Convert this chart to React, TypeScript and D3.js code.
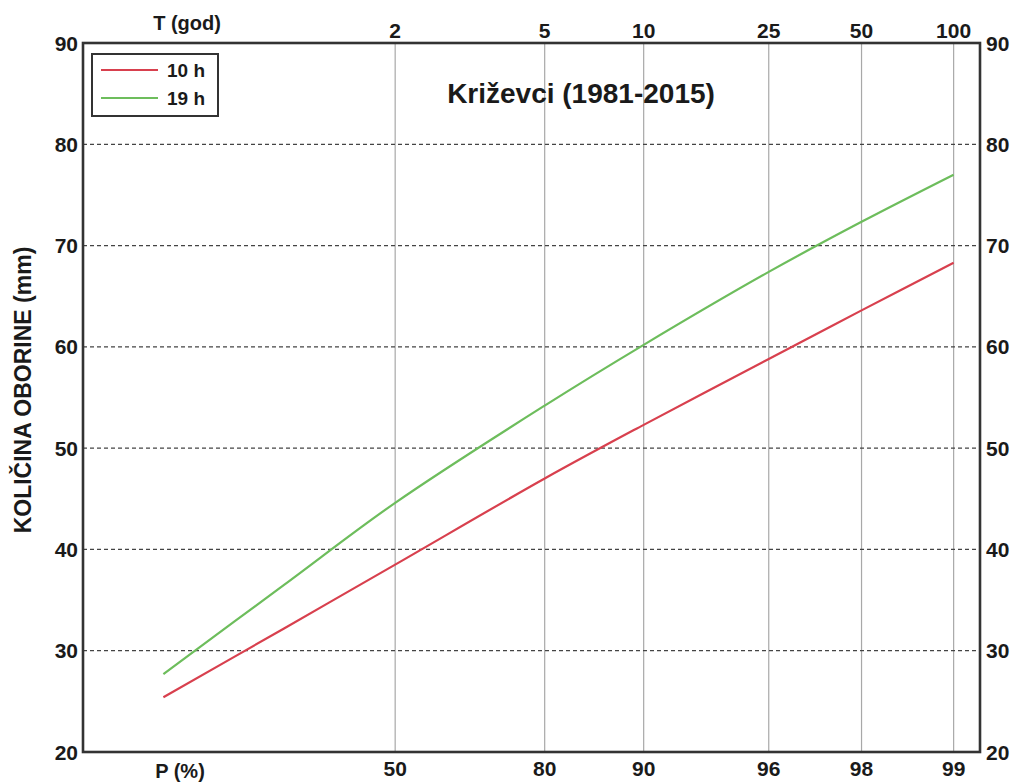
import * as d3 from 'd3';

// non-exceedance probability (%) of the plotted points
const probabilities = [1.8, 20, 50, 80, 90, 96, 98, 99];
const rain10h = [25.4, 32.2, 38.5, 47.0, 52.3, 58.8, 63.6, 68.3];
const rain19h = [27.7, 36.5, 44.6, 54.2, 60.2, 67.4, 72.35, 77.0];

const pTicks = [50, 80, 90, 96, 98, 99];
const tTicks = ['2', '5', '10', '25', '50', '100'];
const yTicks = [20, 30, 40, 50, 60, 70, 80, 90];

const series = [
  { name: '10 h', values: rain10h, color: '#d8404e' },
  { name: '19 h', values: rain19h, color: '#6dbd5c' },
];

const W = 1015;
const H = 782;
const left = 83;
const right = 980;
const top = 43;
const bottom = 752;

const FONT = '"Liberation Sans", Arial, sans-serif';
const INK = '#1a1a1a';

// Gumbel reduced variate
const gumbel = (p: number) => -Math.log(-Math.log(p / 100));

export default function App() {
  const x = d3.scaleLinear().domain([-2, 4.8]).range([left, right]);
  const y = d3.scaleLinear().domain([20, 90]).range([bottom, top]);

  const line = d3
    .line<number>()
    .x((_, i) => x(gumbel(probabilities[i])))
    .y((d) => y(d))
    .curve(d3.curveCatmullRom.alpha(0.5));

  return (
    <div style={{ position: 'absolute', left: 0, top: 0, background: '#fff' }}>
      <svg width={W} height={H} style={{ display: 'block', fontFamily: FONT }}>
        <rect width={W} height={H} fill="#fff" />

        {/* vertical probability grid */}
        {pTicks.map((p) => (
          <line
            key={'v' + p}
            x1={x(gumbel(p))}
            x2={x(gumbel(p))}
            y1={top}
            y2={bottom}
            stroke="#a8a8a8"
            strokeWidth={1.2}
          />
        ))}

        {/* horizontal dashed grid */}
        {yTicks.slice(1, -1).map((v) => (
          <line
            key={'h' + v}
            x1={left}
            x2={right}
            y1={y(v)}
            y2={y(v)}
            stroke="#444"
            strokeWidth={1.2}
            strokeDasharray="4,3"
          />
        ))}

        {/* curves */}
        {series.map((s) => (
          <path key={s.name} d={line(s.values) || ''} fill="none" stroke={s.color} strokeWidth={2.2} />
        ))}

        {/* frame */}
        <rect
          x={left}
          y={top}
          width={right - left}
          height={bottom - top}
          fill="none"
          stroke="#333"
          strokeWidth={2.6}
        />

        {/* y tick labels, both sides */}
        {yTicks.map((v) => (
          <g key={'yl' + v} fontSize={21} fontWeight="bold" fill={INK}>
            <text x={left - 5} y={y(v)} dy="0.36em" textAnchor="end">
              {v}
            </text>
            <text x={right + 6} y={y(v)} dy="0.36em" textAnchor="start">
              {v}
            </text>
          </g>
        ))}

        {/* bottom P labels */}
        {pTicks.map((p) => (
          <text
            key={'pl' + p}
            x={x(gumbel(p))}
            y={776}
            textAnchor="middle"
            fontSize={21}
            fontWeight="bold"
            fill={INK}
          >
            {p}
          </text>
        ))}
        <text x={180} y={778} textAnchor="middle" fontSize={20} fontWeight="bold" fill={INK}>
          P (%)
        </text>

        {/* top T labels */}
        {pTicks.map((p, i) => (
          <text
            key={'tl' + p}
            x={x(gumbel(p))}
            y={38}
            textAnchor="middle"
            fontSize={21}
            fontWeight="bold"
            fill={INK}
          >
            {tTicks[i]}
          </text>
        ))}
        <text x={187} y={30} textAnchor="middle" fontSize={20} fontWeight="bold" fill={INK}>
          T (god)
        </text>

        {/* axis title */}
        <text
          transform={`translate(31, 390) rotate(-90)`}
          textAnchor="middle"
          fontSize={23}
          fontWeight="bold"
          fill={INK}
        >
          KOLIČINA OBORINE (mm)
        </text>

        {/* chart title */}
        <text x={581} y={103} textAnchor="middle" fontSize={28} fontWeight="bold" fill={INK}>
          Križevci (1981-2015)
        </text>

        {/* legend */}
        <rect x={92} y={54} width={126} height={62} fill="#fff" stroke="#333" strokeWidth={2} />
        {series.map((s, i) => (
          <g key={'lg' + s.name}>
            <line x1={101} x2={158} y1={70 + i * 28} y2={70 + i * 28} stroke={s.color} strokeWidth={2.2} />
            <text x={167} y={70 + i * 28} dy="0.36em" fontSize={19} fontWeight="bold" fill={INK}>
              {s.name}
            </text>
          </g>
        ))}
      </svg>
    </div>
  );
}
